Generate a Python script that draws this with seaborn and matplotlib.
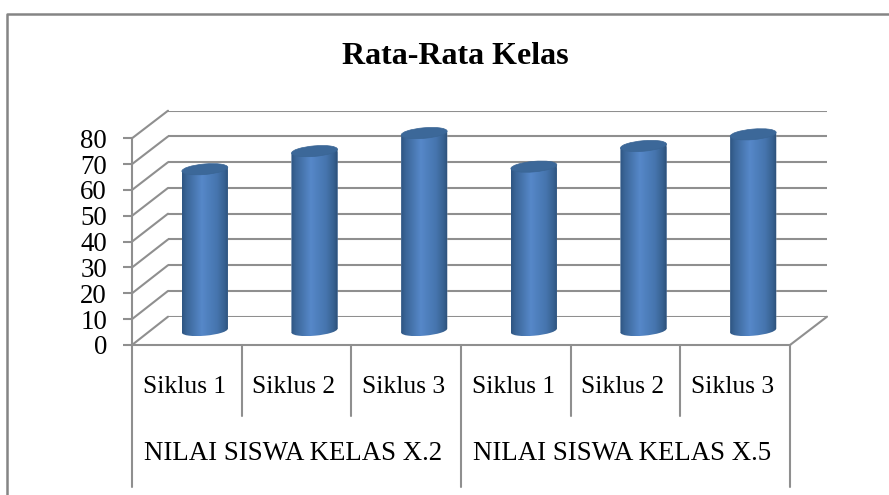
import numpy as np
import pandas as pd
import matplotlib
matplotlib.use("Agg")
import matplotlib.pyplot as plt
from matplotlib.colors import LinearSegmentedColormap
from matplotlib.patches import ConnectionPatch, Ellipse
from matplotlib.path import Path
from matplotlib.transforms import IdentityTransform
import seaborn as sns

# ---- data ----
title = "Rata-Rata Kelas"
groups = ["NILAI SISWA KELAS X.2", "NILAI SISWA KELAS X.5"]
cycles = ["Siklus 1", "Siklus 2", "Siklus 3"]
values_x2 = [62.5, 69.5, 76.5]
values_x5 = [63.5, 71.5, 76]
y_ticks = [0, 10, 20, 30, 40, 50, 60, 70, 80]

df = pd.DataFrame({
    "kelas": np.repeat(groups, 3),
    "siklus": cycles * 2,
    "nilai": values_x2 + values_x5,
})
df["kategori"] = df["kelas"] + " " + df["siklus"]

# ---- style ----
sns.set_style("white")
plt.rcParams["font.family"] = ["Liberation Serif", "DejaVu Serif"]
GRID = "#8f8f8f"
LW = 1.5
W, H = 889, 495

fig = plt.figure(figsize=(W / 100, H / 100), dpi=100, facecolor="white")


def px_axes(x0, x1, y_bottom, y_top, **kw):
    return fig.add_axes([x0 / W, 1 - y_bottom / H, (x1 - x0) / W, (y_bottom - y_top) / H], **kw)


# back wall, front frame, and bar layer: same data scales, shifted by depth
ax_back = px_axes(168, 827, 316.7, 110.7, zorder=1)
ax_front = px_axes(132, 790, 345, 138.3, zorder=2)
ax_bar = px_axes(150, 808, 330.7, 124, zorder=3)
for ax in (ax_back, ax_front, ax_bar):
    ax.set_xlim(-0.5, 5.5)
    ax.set_ylim(0, 80)
    ax.patch.set_alpha(0)

# back wall grid
ax_back.set_yticks(y_ticks)
ax_back.set_xticks([])
ax_back.set_yticklabels([])
ax_back.grid(axis="y", color=GRID, lw=LW)
ax_back.tick_params(left=False)
sns.despine(ax=ax_back, left=True, bottom=True)

# front axis
sns.despine(ax=ax_front)
ax_front.spines["left"].set(color=GRID, lw=LW)
ax_front.spines["bottom"].set(color=GRID, lw=LW)
ax_front.set_yticks(y_ticks)
ax_front.set_yticklabels([str(v) for v in y_ticks], fontsize=19.4, color="black")
ax_front.tick_params(axis="y", left=True, length=6.5, width=LW, color=GRID, pad=11.5)
ax_front.set_xticks([])

# category labels
tr = ax_front.get_xaxis_transform()
for i, s in enumerate(df["siklus"]):
    ax_front.text(i - 0.025, -(387 - 345) / 206.7, s, transform=tr, ha="center", va="center",
                  fontsize=18.4, color="black")

# side wall and floor diagonals
for v in y_ticks:
    fig.add_artist(ConnectionPatch((-0.5, v), (-0.5, v), "data", "data", axesA=ax_front, axesB=ax_back,
                                   color=GRID, lw=LW, zorder=1))
fig.add_artist(ConnectionPatch((5.5, 0), (5.5, 0), "data", "data", axesA=ax_front, axesB=ax_back,
                               color=GRID, lw=LW, zorder=1))

# multi-level category separators and group labels
low_cycle = -(416 - 345) / 206.7
low_group = -(487 - 345) / 206.7
for x in [0.5, 1.5, 3.5, 4.5]:
    ax_front.plot([x, x], [0, low_cycle], transform=tr, color=GRID, lw=LW, clip_on=False)
for x in [-0.5, 2.5, 5.5]:
    ax_front.plot([x, x], [0, low_group], transform=tr, color=GRID, lw=LW, clip_on=False)
for i, g in enumerate(groups):
    ax_front.text(0.97 + 3 * i, -(454 - 345) / 206.7, g, transform=tr, ha="center", va="center",
                  fontsize=19.4, color="black")

# bars
sns.barplot(data=df, x="kategori", y="nilai", order=list(df["kategori"]), color="#4a7ab5",
            width=0.42, saturation=1, ax=ax_bar)
ax_bar.set_xlim(-0.5, 5.5)
ax_bar.set_ylim(0, 80)
ax_bar.set_axis_off()

cyl = LinearSegmentedColormap.from_list("cyl", [
    (0.0, "#2e5582"), (0.1, "#3b6698"), (0.42, "#5688c9"),
    (0.75, "#4675ae"), (0.92, "#36608f"), (1.0, "#2c4e76")])
grad = np.linspace(0, 1, 128).reshape(1, -1)
to_px = ax_bar.transData.transform
tilt = 2.0  # px rise of the ellipse ends either side of the bar's centre line
for bar in list(ax_bar.patches):
    x0, w, h = bar.get_x(), bar.get_width(), bar.get_height()
    (pxl, py0), (pxr, py1) = to_px([(x0, 0), (x0 + w, h)])
    cx, pw = (pxl + pxr) / 2, pxr - pxl
    body = Path([(pxl, py0 - tilt), (pxr, py0 + tilt), (pxr, py1 + tilt), (pxl, py1 - tilt), (pxl, py0 - tilt)])
    bar.set_clip_path(body, IdentityTransform())
    im = ax_bar.imshow(grad, extent=(x0, x0 + w, -2, h + 2), aspect="auto", cmap=cyl, zorder=3)
    im.set_clip_box(fig.bbox)
    im.set_clip_path(body, IdentityTransform())
    base = Ellipse((cx, py0), pw, 10, angle=5, transform=IdentityTransform())
    im2 = ax_bar.imshow(grad, extent=(x0, x0 + w, -4, 4), aspect="auto", cmap=cyl, zorder=3)
    im2.set_clip_box(fig.bbox)
    im2.set_clip_path(base)
    ax_bar.add_artist(Ellipse((cx, py1), pw, 10.5, angle=5, transform=IdentityTransform(),
                              facecolor="#3c6899", edgecolor="#3a6594", lw=0.5, zorder=4, clip_on=False))
ax_bar.set_xlim(-0.5, 5.5)
ax_bar.set_ylim(0, 80)

# title and outer frame
fig.text(455.5 / W, 1 - 57 / H, title, ha="center", va="center", fontsize=23, fontweight="bold", color="black")
fig.add_artist(plt.Line2D([7 / W, 7 / W, 1], [0, 1 - 13.5 / H, 1 - 13.5 / H], transform=fig.transFigure,
                          color="#858585", lw=1.8))

fig.savefig("out.png", dpi=100)
